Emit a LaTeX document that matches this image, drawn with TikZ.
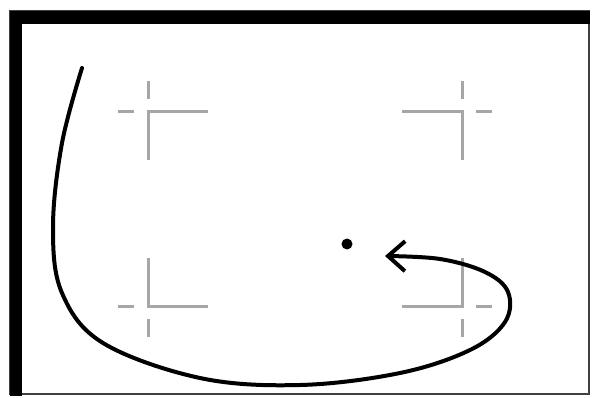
\documentclass[tikz,border=0pt]{standalone}
\usepackage{tikz}
\usetikzlibrary{arrows.meta,calc,positioning}

\begin{document}
\begin{tikzpicture}[x=0.02cm,y=-0.02cm,>={Straight Barb[length=3.4mm,width=6mm]},
  cropline/.style={gray!70,line width=0.06cm},
  pathline/.style={line width=0.08cm,line cap=round}]
\useasboundingbox (0,0) rectangle (594,398);
% frame: heavy top and left, thin right and bottom
\draw[black!75,line width=0.03cm] (10,11) rectangle (589,394);
\fill (10,11) rectangle (590,24);
\fill (10,11) rectangle (22,396);
% the four corner marks
\foreach \cx/\cy/\sx/\sy in {148/112/1/1,462/112/-1/1,148/306/1/-1,462/306/-1/-1}{
  \draw[cropline] (\cx+60*\sx,\cy) -- (\cx,\cy) -- (\cx,\cy+48*\sy);
  \draw[cropline] (\cx-14*\sx,\cy) -- (\cx-30*\sx,\cy);
  \draw[cropline] (\cx,\cy-13*\sy) -- (\cx,\cy-31*\sy);
}
% point and the path that loops back to it
\node[circle,fill,inner sep=0,minimum size=0.22cm] (dot) at (347,244) {};
\coordinate (start) at (82,68);
\coordinate (tip) at (385,256);
\draw[pathline,->] plot[smooth,tension=0.6] coordinates {(start) (62,143) (53,227) (62,293) (103,343)
  (200,378) (300,385) (400,373) (470,350) (505,322) (508,292) (485,272) (440,259) (tip)};
\end{tikzpicture}
\end{document}
